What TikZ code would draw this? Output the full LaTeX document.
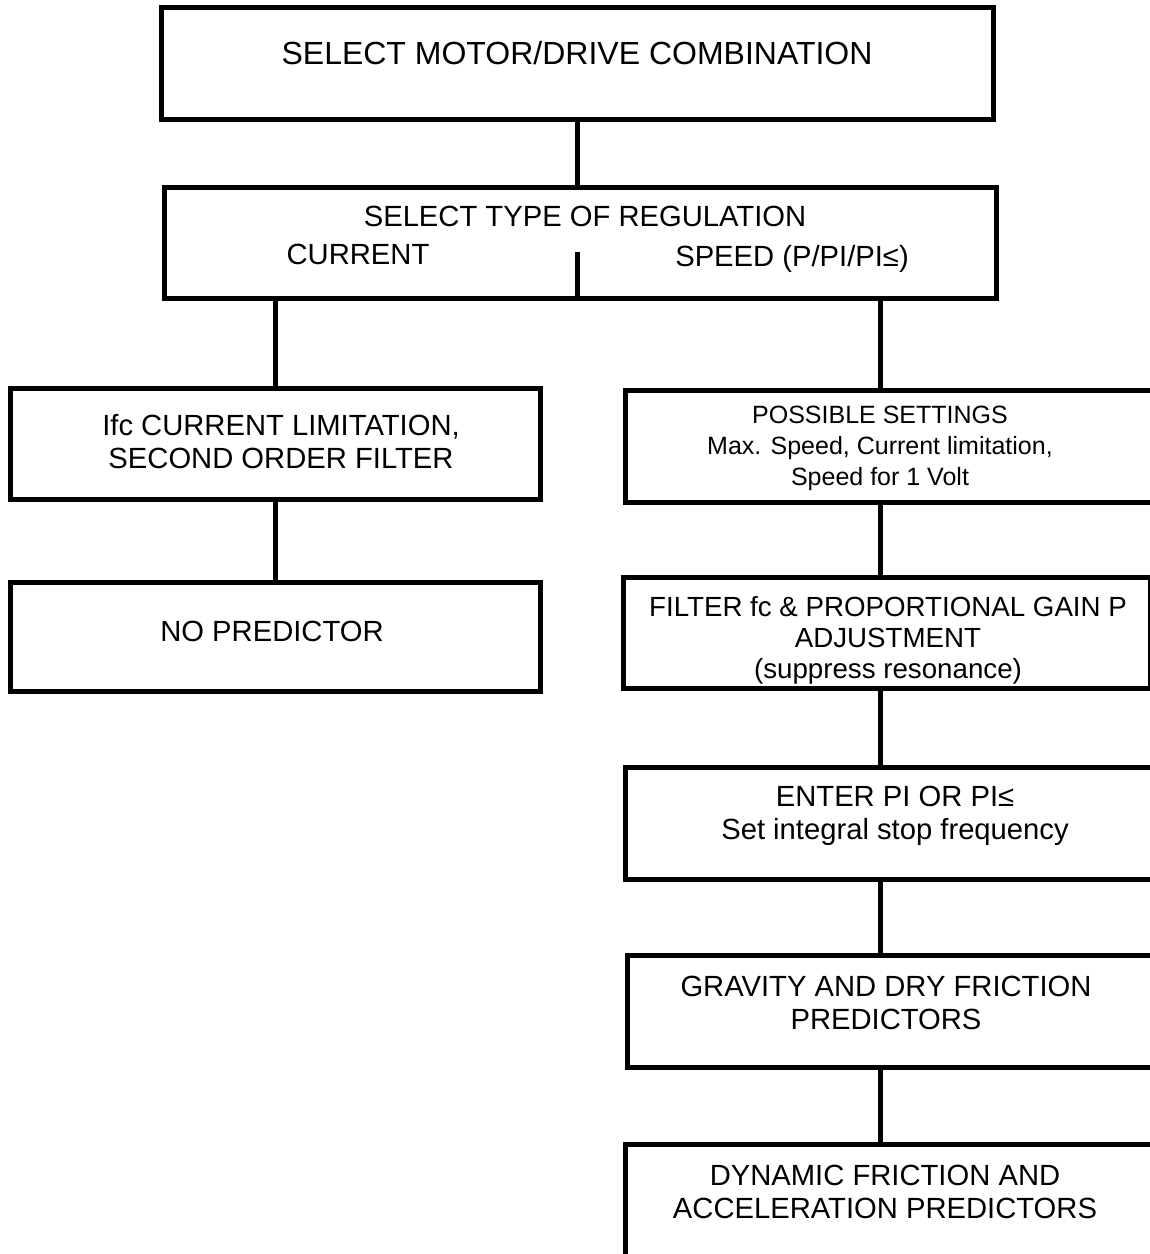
\documentclass[tikz,border=0pt]{standalone}
\usepackage{fontspec}
\setmainfont{Liberation Sans}
\usetikzlibrary{positioning,calc}

\begin{document}
\begin{tikzpicture}[x=1pt, y=-1pt,
    stepbox/.style={rectangle, draw, line width=5pt, inner sep=0pt},
    link/.style={line width=5pt},
    txt/.style={align=center, inner sep=0pt, font=\fontsize{29.2}{32.5}\selectfont},
    bigtxt/.style={align=center, inner sep=0pt, font=\fontsize{32}{36}\selectfont},
    smalltxt/.style={align=center, inner sep=0pt, font=\fontsize{25}{31}\selectfont},
    midtxt/.style={align=center, inner sep=0pt, font=\fontsize{27.7}{31}\selectfont}
]
\useasboundingbox (0,0) rectangle (1150,1254);
\clip (0,0) rectangle (1150,1254);

% Top of the chart
\node[stepbox, minimum width=832pt, minimum height=112pt] (motor) at (577,63.5) {};
\node[bigtxt] (motortext) at (577,53) {SELECT MOTOR/DRIVE COMBINATION};

\node[stepbox, minimum width=832pt, minimum height=111pt] (reg) at (580,242.5) {};
\node[txt] (regtitle) at (585,216) {SELECT TYPE OF REGULATION};
\node[txt] (regcurrent) at (358,254) {CURRENT};
\node[txt] (regspeed) at (792,259) {SPEED (P/PI/PI≤)};
\coordinate (split) at (577,252);

% Current branch
\node[stepbox, minimum width=530pt, minimum height=111pt] (ifc) at (275,443.5) {};
\node[txt] (ifctext) at (281,441.5) {Ifc CURRENT LIMITATION,\\SECOND ORDER FILTER};

\node[stepbox, minimum width=530pt, minimum height=109pt] (nopred) at (275,636.5) {};
\node[txt] (nopredtext) at (272,631) {NO PREDICTOR};

% Speed branch
\coordinate (rail) at (880,0);
\node[stepbox, minimum width=535pt, minimum height=112pt] (settings) at (892.5,446) {};
\node[smalltxt] (settingstext) at (880,448) {POSSIBLE SETTINGS\\Max. Speed, Current limitation,\\Speed for 1 Volt};

\node[stepbox, minimum width=527pt, minimum height=111pt] (filter) at (886.5,632.5) {};
\node[midtxt] (filtertext) at (888,640) {FILTER fc \& PROPORTIONAL GAIN P\\ADJUSTMENT\\(suppress resonance)};

\node[stepbox, minimum width=535pt, minimum height=112pt] (enter) at (892.5,823) {};
\node[txt] (entertext) at (895,816) {ENTER PI OR PI≤\\Set integral stop frequency};

\node[stepbox, minimum width=533pt, minimum height=112pt] (gravity) at (893.5,1011) {};
\node[txt] (gravitytext) at (886,1003) {GRAVITY AND DRY FRICTION\\PREDICTORS};

\node[stepbox, minimum width=535pt, minimum height=136pt] (dynamic) at (892.5,1212) {};
\node[txt] (dynamictext) at (885,1192) {DYNAMIC FRICTION AND\\ACCELERATION PREDICTORS};

% Connectors
\draw[link] (motor.south) -- (motor.south |- reg.north);
\draw[link] (split) -- (split |- reg.south);
\draw[link] (ifc.north |- reg.south) -- (ifc.north);
\draw[link] (ifc) -- (nopred);
\draw[link] (rail |- reg.south) -- (rail |- settings.north);
\draw[link] (rail |- settings.south) -- (rail |- filter.north);
\draw[link] (rail |- filter.south) -- (rail |- enter.north);
\draw[link] (rail |- enter.south) -- (rail |- gravity.north);
\draw[link] (rail |- gravity.south) -- (rail |- dynamic.north);

\end{tikzpicture}
\end{document}
